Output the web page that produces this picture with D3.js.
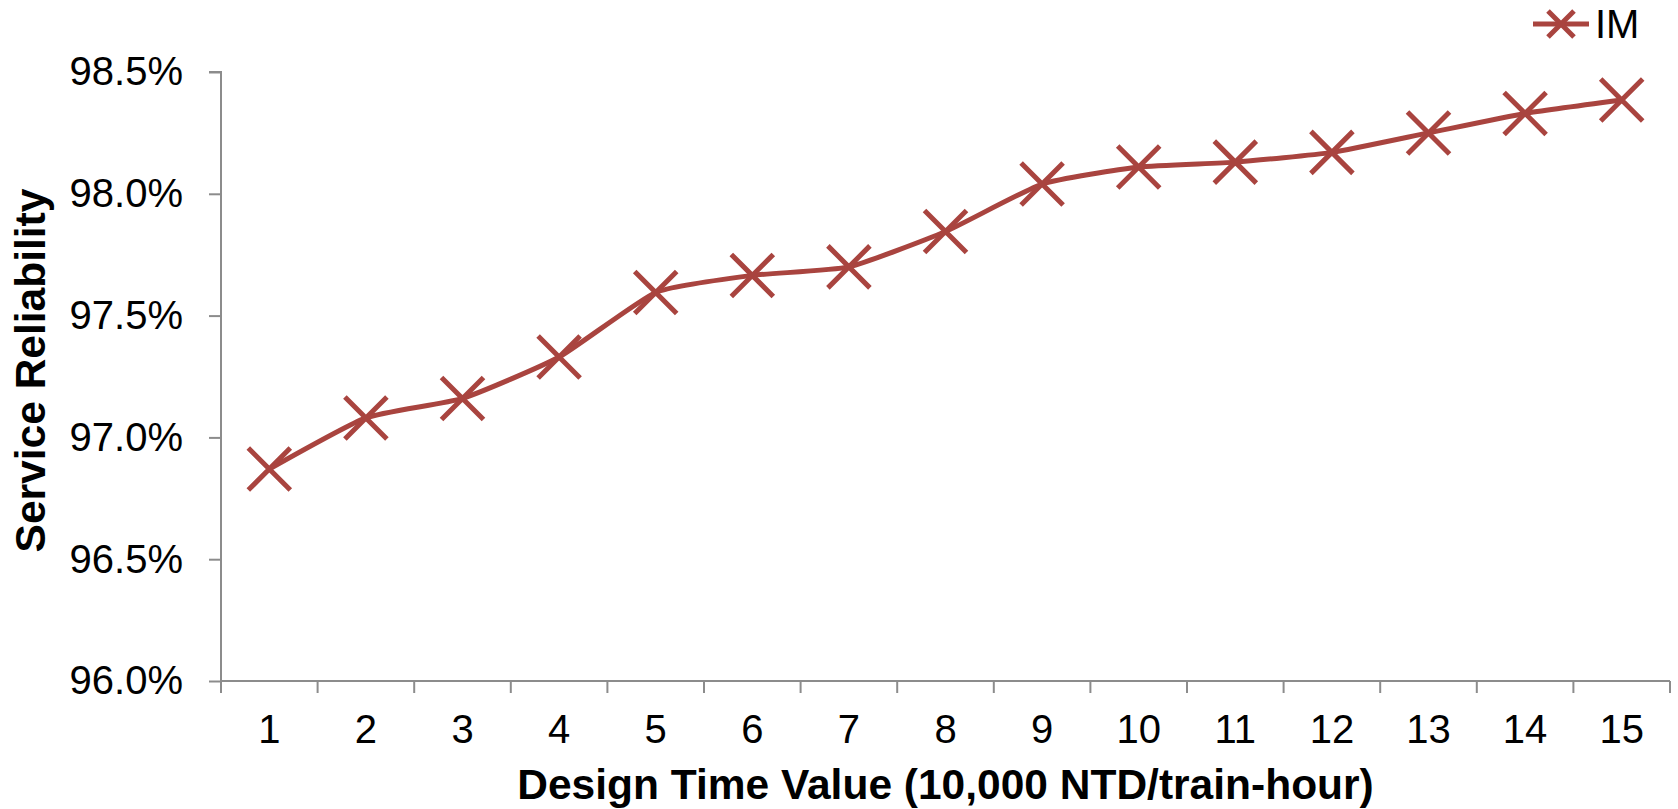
<!DOCTYPE html>
<html lang="en">
<head>
    <meta charset="UTF-8">
    <title>Service Reliability vs Design Time Value</title>
    <style>
        body { margin: 0; background: #fff; }
        svg { display: block; font-family: Arial, "Liberation Sans", sans-serif; }
    </style>
</head>
<body>
    <svg id="chart" width="1678" height="809"></svg>

    <script src="https://d3js.org/d3.v7.min.js"></script>
    <script>
        // data
        const timeValues = [1, 2, 3, 4, 5, 6, 7, 8, 9, 10, 11, 12, 13, 14, 15];
        const reliabilityIM = [96.87, 97.08, 97.16, 97.33, 97.595, 97.665, 97.70, 97.845,
                               98.04, 98.11, 98.13, 98.17, 98.25, 98.33, 98.385];
        const yTicks = [96.0, 96.5, 97.0, 97.5, 98.0, 98.5];
        const seriesName = 'IM';

        const red = '#a9443f';
        const axisGrey = '#8c8c8c';

        const svg = d3.select('#chart');
        const margin = { left: 221, right: 8, top: 72, bottom: 128 };
        const W = 1678, H = 809;

        const x = d3.scaleBand()
            .domain(timeValues)
            .range([margin.left, W - margin.right])
            .paddingInner(0).paddingOuter(0);

        const y = d3.scaleLinear()
            .domain([96.0, 98.5])
            .range([H - margin.bottom, margin.top]);

        // y axis
        const yAxis = svg.append('g')
            .attr('transform', `translate(${margin.left},0)`)
            .call(d3.axisLeft(y)
                .tickValues(yTicks)
                .tickSize(12)
                .tickPadding(26)
                .tickFormat(d => d.toFixed(1) + '%'));

        // x axis: ticks on band edges, labels at centres
        const xAxis = svg.append('g')
            .attr('transform', `translate(0,${H - margin.bottom})`)
            .call(d3.axisBottom(x)
                .tickSize(0)
                .tickPadding(34));

        const edges = timeValues.map(d => x(d)).concat([x.range()[1]]);
        xAxis.selectAll('.edge-tick')
            .data(edges)
            .enter().append('line')
            .attr('class', 'edge-tick')
            .attr('x1', d => d).attr('x2', d => d)
            .attr('y1', 0).attr('y2', 12);

        [yAxis, xAxis].forEach(g => {
            g.select('.domain').attr('stroke', axisGrey).attr('stroke-width', 2);
            g.selectAll('line').attr('stroke', axisGrey).attr('stroke-width', 2);
            g.selectAll('text')
                .attr('fill', '#000')
                .style('font-size', '40px')
                .style('font-family', 'Arial, "Liberation Sans", sans-serif');
        });
        yAxis.select('.domain').attr('d', `M-12,${y(98.5)}H0V${y(96.0)}`);
        xAxis.select('.domain').attr('d', `M${x.range()[0]},0H${x.range()[1]}`);

        // lightly smoothed line
        const line = d3.line()
            .x((d, i) => x(timeValues[i]) + x.bandwidth() / 2)
            .y(d => y(d))
            .curve(d3.curveCardinal.tension(0.5));

        svg.append('path')
            .datum(reliabilityIM)
            .attr('d', line)
            .attr('fill', 'none')
            .attr('stroke', red)
            .attr('stroke-width', 5)
            .attr('stroke-linejoin', 'round');

        function crossPath(r) {
            return `M${-r},${-r}L${r},${r}M${-r},${r}L${r},${-r}`;
        }

        svg.append('g').selectAll('path')
            .data(reliabilityIM)
            .enter().append('path')
            .attr('transform', (d, i) => `translate(${x(timeValues[i]) + x.bandwidth() / 2},${y(d)})`)
            .attr('d', crossPath(21))
            .attr('stroke', red)
            .attr('stroke-width', 5)
            .attr('fill', 'none');

        // legend
        const legend = svg.append('g').attr('transform', 'translate(1561,24)');
        legend.append('line')
            .attr('x1', -28).attr('x2', 28)
            .attr('stroke', red).attr('stroke-width', 5);
        legend.append('path')
            .attr('d', crossPath(13))
            .attr('stroke', red).attr('stroke-width', 5).attr('fill', 'none');
        legend.append('text')
            .attr('x', 34).attr('y', 14)
            .style('font-size', '40px')
            .text(seriesName);

        // axis titles
        svg.append('text')
            .attr('x', (x.range()[0] + x.range()[1]) / 2)
            .attr('y', 799)
            .attr('text-anchor', 'middle')
            .style('font-size', '42.5px')
            .style('font-weight', 'bold')
            .text('Design Time Value (10,000 NTD/train-hour)');

        svg.append('text')
            .attr('transform', `translate(45,${(y.range()[0] + y.range()[1]) / 2 - 6}) rotate(-90)`)
            .attr('text-anchor', 'middle')
            .style('font-size', '42.5px')
            .style('font-weight', 'bold')
            .text('Service Reliability');
    </script>
</body>
</html>
